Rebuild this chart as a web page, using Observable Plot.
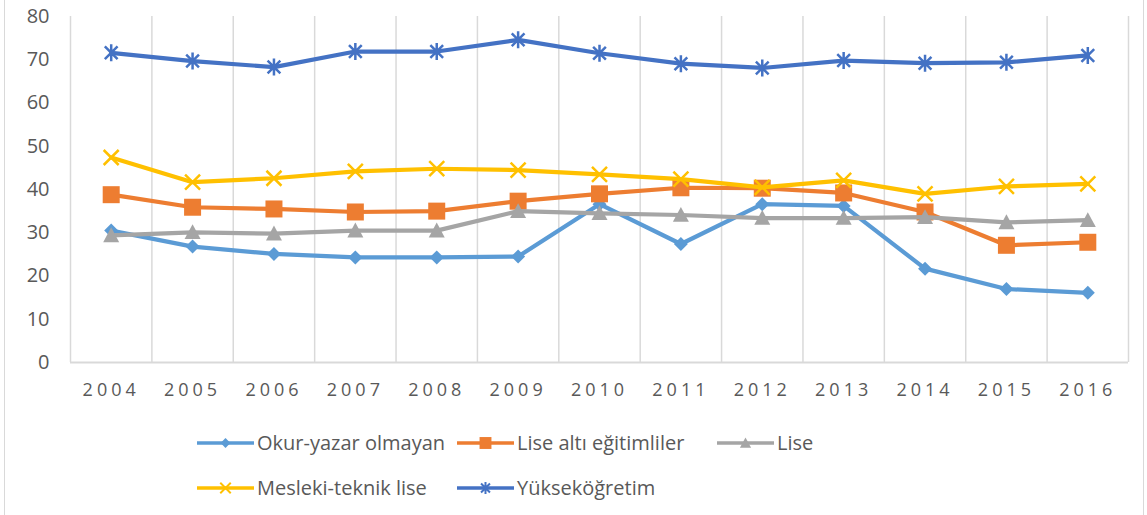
<!DOCTYPE html>
<html>
<head>
<meta charset="utf-8">
<script src="https://cdn.jsdelivr.net/npm/d3@7"></script>
<script src="https://cdn.jsdelivr.net/npm/@observablehq/plot@0.6"></script>
<style>
  html, body { margin: 0; padding: 0; background: #fff; }
  body { width: 1147px; height: 515px; position: relative; overflow: hidden; font-family: "Open Sans", sans-serif; }
  #frame { position: absolute; left: 4px; top: 0; width: 1140px; height: 515px; border-left: 1.5px solid #d9d9d9; border-right: 1.5px solid #d9d9d9; box-sizing: border-box; pointer-events: none; }
  #chart svg { display: block; }
  g[aria-label="x-axis tick label"] text { letter-spacing: 4px; }
  #legend { position: absolute; left: 197px; top: 420px; display: grid; grid-template-columns: 260px 260px 260px; grid-auto-rows: 45px; }
  .item { display: flex; align-items: center; color: #595959; font-size: 20px; white-space: nowrap; }
  .item svg { margin-right: 3px; flex: none; }
</style>
</head>
<body>
<div id="chart"></div>
<div id="legend"></div>
<div id="frame"></div>
<script>
const years = [2004, 2005, 2006, 2007, 2008, 2009, 2010, 2011, 2012, 2013, 2014, 2015, 2016];
const seriesNames = ["Okur-yazar olmayan", "Lise altı eğitimliler", "Lise", "Mesleki-teknik lise", "Yükseköğretim"];
const okurYazarOlmayan   = [30.5, 26.8, 25.1, 24.3, 24.3, 24.5, 36.6, 27.4, 36.6, 36.2, 21.7, 17.0, 16.1];
const liseAlti           = [38.8, 35.9, 35.5, 34.8, 35.0, 37.3, 39.0, 40.4, 40.3, 39.2, 34.8, 27.1, 27.8];
const lise               = [29.4, 30.1, 29.8, 30.5, 30.5, 35.0, 34.5, 34.1, 33.4, 33.4, 33.6, 32.4, 32.9];
const meslekiTeknikLise  = [47.4, 41.7, 42.6, 44.2, 44.8, 44.5, 43.5, 42.4, 40.5, 42.1, 39.0, 40.7, 41.3];
const yuksekogretim      = [71.6, 69.7, 68.3, 71.9, 71.9, 74.6, 71.5, 69.1, 68.1, 69.8, 69.2, 69.4, 71.0];
const yTicks = [0, 10, 20, 30, 40, 50, 60, 70, 80];
const colors = ["#5B9BD5", "#ED7D31", "#A5A5A5", "#FFC000", "#4472C4"];

const valuesBySeries = [okurYazarOlmayan, liseAlti, lise, meslekiTeknikLise, yuksekogretim];

// custom marker symbols; r (plot) = half-extent
const rad = (size) => Math.sqrt(size / Math.PI);
const symDiamond = { draw(c, s) { const r = rad(s); c.moveTo(0, -r); c.lineTo(r, 0); c.lineTo(0, r); c.lineTo(-r, 0); c.closePath(); } };
const symSquare = { draw(c, s) { const r = rad(s); c.rect(-r, -r, 2 * r, 2 * r); } };
const symTriangle = { draw(c, s) { const r = rad(s); c.moveTo(0, -r); c.lineTo(r, r * 0.85); c.lineTo(-r, r * 0.85); c.closePath(); } };
const symTimes = { draw(c, s) { const r = rad(s); c.moveTo(-r, -r); c.lineTo(r, r); c.moveTo(-r, r); c.lineTo(r, -r); } };
const symStar = { draw(c, s) { const r = rad(s); const d = r * 0.75; c.moveTo(0, -r); c.lineTo(0, r); c.moveTo(-d, -d); c.lineTo(d, d); c.moveTo(-d, d); c.lineTo(d, -d); } };

const markerSpec = [
  { symbol: symDiamond, r: 7, filled: true },
  { symbol: symSquare, r: 8.5, filled: true },
  { symbol: symTriangle, r: 8, filled: true },
  { symbol: symTimes, r: 7.5, filled: false },
  { symbol: symStar, r: 8.5, filled: false }
];

const data = [];
seriesNames.forEach((name, i) => {
  years.forEach((y, j) => data.push({ series: name, year: y, value: valuesBySeries[i][j] }));
});

const gridPositions = [years[0] - 0.5, ...years.map(y => y + 0.5)];

const marks = [
  Plot.ruleX(gridPositions, { stroke: "#d9d9d9", strokeWidth: 1.5 }),
  Plot.ruleY([0], { stroke: "#d9d9d9", strokeWidth: 2 }),
  Plot.axisY(yTicks, { tickSize: 0, tickPadding: 21, fontSize: 20, fill: "#595959", label: null }),
  Plot.axisX(years, { tickSize: 0, tickPadding: 21, fontSize: 18, fill: "#595959", label: null, tickFormat: d => String(d) })
];
seriesNames.forEach((name, i) => {
  const rows = data.filter(d => d.series === name);
  const m = markerSpec[i];
  marks.push(Plot.line(rows, { x: "year", y: "value", stroke: colors[i], strokeWidth: 4.2, strokeLinejoin: "round", strokeLinecap: "round" }));
  marks.push(Plot.dot(rows, m.filled
    ? { x: "year", y: "value", symbol: () => m.symbol, r: m.r, fill: colors[i], stroke: "none" }
    : { x: "year", y: "value", symbol: () => m.symbol, r: m.r, fill: "none", stroke: colors[i], strokeWidth: 2.5 }));
});

const chart = Plot.plot({
  width: 1147,
  height: 410,
  marginLeft: 70,
  marginRight: 19,
  marginTop: 16,
  marginBottom: 48,
  style: { fontFamily: "'Open Sans', sans-serif", background: "transparent" },
  x: { type: "linear", domain: [years[0] - 0.5, years[years.length - 1] + 0.5], axis: null },
  y: { domain: [0, 80], axis: null },
  symbol: { type: "identity" },
  marks
});
document.getElementById("chart").appendChild(chart);

// legend
const legend = d3.select("#legend");
seriesNames.forEach((name, i) => {
  const item = legend.append("div").attr("class", "item");
  const svg = item.append("svg").attr("width", 57).attr("height", 20);
  svg.append("line").attr("x1", 0).attr("x2", 57).attr("y1", 10).attr("y2", 10)
    .attr("stroke", colors[i]).attr("stroke-width", 3.5);
  const m = markerSpec[i];
  const size = Math.PI * Math.pow(m.r * 0.7, 2);
  svg.append("path").attr("transform", "translate(28.5,10)")
    .attr("d", d3.symbol(m.symbol, size)())
    .attr("fill", m.filled ? colors[i] : "none")
    .attr("stroke", m.filled ? "none" : colors[i])
    .attr("stroke-width", m.filled ? 0 : 2);
  item.append("span").text(name);
});
</script>
</body>
</html>
